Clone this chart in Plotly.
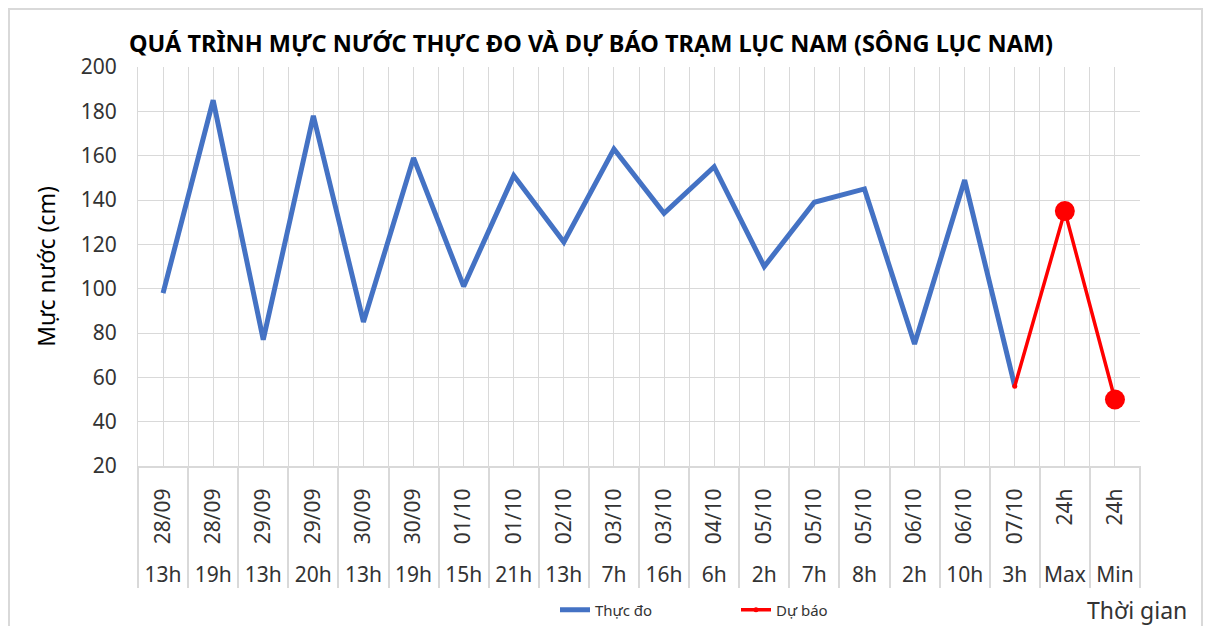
import plotly.graph_objects as go

# ---- data ----
dates = ["28/09", "28/09", "29/09", "29/09", "30/09", "30/09", "01/10", "01/10", "02/10", "03/10",
         "03/10", "04/10", "05/10", "05/10", "05/10", "06/10", "06/10", "07/10", "24h", "24h"]
hours = ["13h", "19h", "13h", "20h", "13h", "19h", "15h", "21h", "13h", "7h",
         "16h", "6h", "2h", "7h", "8h", "2h", "10h", "3h", "Max", "Min"]
observed = [98, 185, 77, 178, 85, 159, 101, 151, 121, 163, 134, 155, 110, 139, 145, 75, 149, 56]
forecast = [56, 135, 50]          # starts at last observed point, then Max, Min

n = len(dates)
idx = list(range(n))
obs_x = idx[:len(observed)]
fc_x = idx[len(observed) - 1:len(observed) - 1 + len(forecast)]
bounds = [i - 0.5 for i in range(n + 1)]

FONT = "Noto Sans"
TXT = "#333333"
GRID = "#d9d9d9"

# the page body has an 8px margin: work in reference px and convert
OFF = 8
FW, FH = 1211 - 2 * OFF, 640
PL, PR, PT, PB = 138 - OFF, 1140 - OFF, 67 - OFF, FH   # paper box in figure px
PW, PH = PR - PL, PB - PT


def px_x(x):   # reference x px -> paper fraction
    return (x - OFF - PL) / PW


def px_y(y):   # reference y px -> paper fraction
    return (PB - (y - OFF)) / PH


fig = go.Figure()
fig.add_trace(go.Scatter(x=obs_x, y=observed, mode="lines", name="Thực đo",
                         line=dict(color="#4472C4", width=5)))
fig.add_trace(go.Scatter(x=fc_x, y=forecast, mode="lines+markers", name="Dự báo",
                         legendgroup="fc",
                         line=dict(color="#FF0000", width=3.5),
                         marker=dict(color="#FF0000", size=5, line=dict(width=0))))
fig.add_trace(go.Scatter(x=fc_x[1:], y=forecast[1:], mode="markers", name="Dự báo",
                         legendgroup="fc", showlegend=False,
                         marker=dict(color="#FF0000", size=20, opacity=1, line=dict(width=0))))
# carriers for the second-level labels and the label-cell separators
fig.add_trace(go.Scatter(x=idx, y=[None] * n, xaxis="x2", mode="lines",
                         showlegend=False, hoverinfo="skip"))
fig.add_trace(go.Scatter(x=idx, y=[None] * n, xaxis="x3", mode="lines",
                         showlegend=False, hoverinfo="skip"))

rng = [-0.5, n - 0.5]
fig.update_layout(
    width=FW, height=FH,
    paper_bgcolor="white", plot_bgcolor="white",
    margin=dict(l=PL, r=FW - PR, t=PT, b=FH - PB, autoexpand=False),
    font=dict(family=FONT, color=TXT),
    title=dict(text="<b>QUÁ TRÌNH MỰC NƯỚC THỰC ĐO VÀ DỰ BÁO TRẠM LỤC NAM (SÔNG LỤC NAM)</b>",
               x=(591 - OFF) / FW, xref="container", xanchor="center",
               y=1 - (44 - OFF) / FH, yref="container", yanchor="middle",
               font=dict(family=FONT, size=23.5, color="#000000")),
    yaxis=dict(domain=[px_y(466), 1], range=[20, 200], dtick=20, automargin=False,
               showgrid=True, gridcolor=GRID, gridwidth=1.3, zeroline=False,
               showline=True, linecolor=GRID, ticks="", ticklabelstandoff=16,
               tickfont=dict(size=21, color=TXT),
               title=dict(text="Mực nước (cm)", font=dict(size=23, color="#000000"), standoff=18)),
    xaxis=dict(range=rng, tickmode="array", tickvals=idx, ticktext=dates, tickangle=-90,
               automargin=False,
               tickfont=dict(size=21, color=TXT), ticks="", ticklabelstandoff=12,
               showgrid=True, gridcolor=GRID, gridwidth=1.3, zeroline=False,
               showline=True, linecolor=GRID, linewidth=2,
               minor=dict(tickmode="array", tickvals=bounds, showgrid=True,
                          gridcolor=GRID, gridwidth=1.3, ticks="")),
    xaxis2=dict(overlaying="x", anchor="free", position=px_y(560), side="bottom", range=rng,
                automargin=False,
                tickmode="array", tickvals=idx, ticktext=hours,
                tickfont=dict(size=21, color=TXT), ticks="", showgrid=False,
                showline=False, zeroline=False),
    xaxis3=dict(overlaying="x", anchor="free", position=px_y(588), side="top", range=rng,
                automargin=False,
                tickmode="array", tickvals=bounds, ticks="outside", ticklen=588 - 466,
                tickcolor=GRID, tickwidth=2, showticklabels=False, showgrid=False,
                showline=False, zeroline=False),
    legend=dict(orientation="h", x=px_x(555), xanchor="left",
                y=px_y(610), yanchor="middle", entrywidth=136,
                font=dict(size=15, color=TXT), bgcolor="rgba(0,0,0,0)"),
    showlegend=True,
    annotations=[dict(text="Thời gian", xref="paper", yref="paper",
                      x=px_x(1137), y=px_y(610),
                      xanchor="center", yanchor="middle", showarrow=False,
                      font=dict(size=23, color=TXT))],
    shapes=[dict(type="rect", xref="paper", yref="paper",
                 x0=(1 - PL) / PW, x1=(FW - 1 - PL) / PW,
                 y0=-0.02, y1=(PB - 1) / PH,
                 line=dict(color=GRID, width=2), fillcolor="rgba(0,0,0,0)", layer="below")],
)

fig.write_html("out.html")
